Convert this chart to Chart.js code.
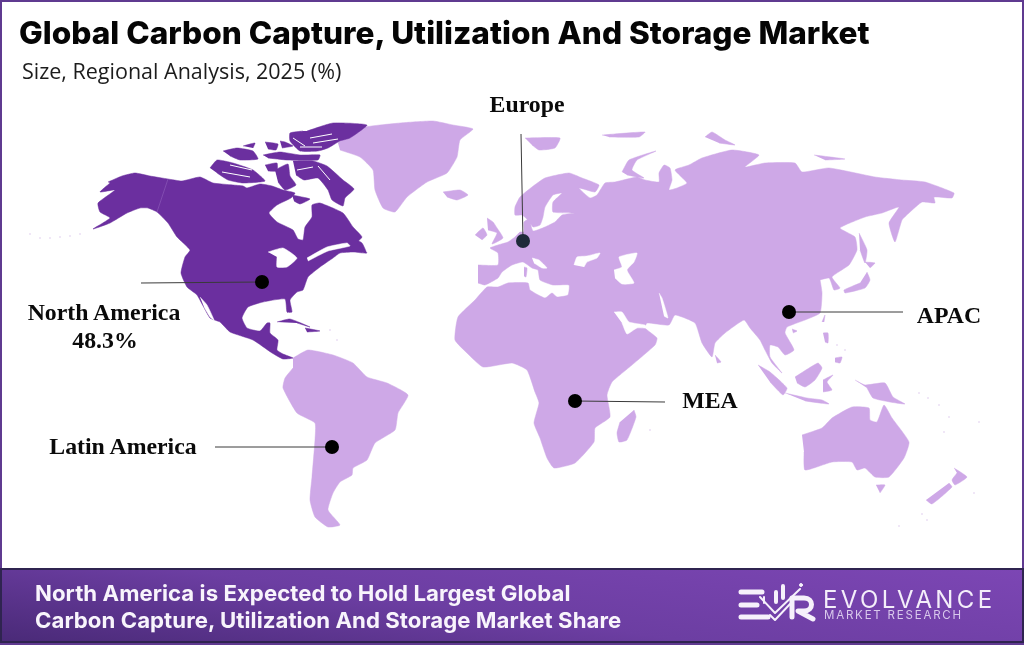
<!DOCTYPE html>
<html>
<head>
<meta charset="utf-8">
<title>Global Carbon Capture, Utilization And Storage Market</title>
<script src="https://cdn.jsdelivr.net/npm/chart.js@4"></script>
<style>
    html, body { margin: 0; padding: 0; background: #fff; }
    #page { position: relative; width: 1024px; height: 645px; overflow: hidden; background: #fff; }
    #map { position: absolute; left: 0; top: 0; }
    #frame { position: absolute; left: 0; top: 0; width: 1020px; height: 641px; border: 2px solid #5f3a90; pointer-events: none; }
    #title { position: absolute; left: 19px; top: 13px; font: 800 31.6px Inter, sans-serif; color: #050505; white-space: nowrap; }
    #subtitle { position: absolute; left: 22px; top: 56px; font: 400 21.5px "Open Sans", sans-serif; color: #1c1c1c; white-space: nowrap; }
    .label { position: absolute; font: 700 23.8px "Liberation Serif", serif; color: #0a0a0a; white-space: nowrap; transform: translate(-50%, -50%); }
    #band { position: absolute; left: 0; top: 568px; width: 1024px; height: 75px; box-sizing: border-box; border: 2px solid #2f2450;
            background: linear-gradient(8deg, #4a2a78 0%, #6c3ea2 45%, #7c46b4 100%); }
    .band-line { position: absolute; left: 35px; font: 700 22.2px Inter, sans-serif; color: #f8f4fc; white-space: nowrap; letter-spacing: 0.05px; }
    #brand { position: absolute; left: 823px; top: 585px; font: 400 24px Inter, sans-serif; color: #f4eefa; letter-spacing: 3.4px; white-space: nowrap; }
    #brand2 { position: absolute; left: 824px; top: 608px; font: 400 11.5px Inter, sans-serif; color: #d9c9ec; letter-spacing: 1.8px; white-space: nowrap; }
    #logo { position: absolute; left: 735px; top: 578px; }
</style>
</head>
<body>
<div id="page">
    <canvas id="map" width="1024" height="645"></canvas>
    <div id="frame"></div>
    <div id="title">Global Carbon Capture, Utilization And Storage Market</div>
    <div id="subtitle">Size, Regional Analysis, 2025 (%)</div>
    <div id="band"></div>
    <div class="band-line" style="top:579px">North America is Expected to Hold Largest Global</div>
    <div class="band-line" style="top:606px">Carbon Capture, Utilization And Storage Market Share</div>
    <svg id="logo" width="90" height="48" viewBox="735 578 90 48" fill="none" stroke="#f6f1fb" stroke-linecap="round" stroke-linejoin="round">
        <path d="M741 592H762M741 605H757M741 617H768" stroke-width="5"/>
        <path d="M760 597L775 613L800 589" stroke-width="2"/>
        <path d="M764 597V603M770 615L775 620L790 604" stroke-width="2"/>
        <path d="M776 592V602M783 586V598" stroke-width="4"/>
        <path d="M792 617V598H804C814 598 814 611 804 611H798L813 619" stroke-width="5"/>
        <circle cx="801" cy="585" r="1.5" fill="#f6f1fb"/>
    </svg>
    <div id="brand">EVOLVANCE</div>
    <div id="brand2">MARKET RESEARCH</div>
</div>
<script>
// map outlines as [mapX, mapY]
const northAmerica = [[108,182],[122,176],[135,173],[150,176],[168,179],[182,181],[200,177],[213,183],[233,185],[243,186],[247,188],[260,184],[272,186],[283,190],[295,193],[291,198],[277,205],[269,213],[277,222],[293,230],[298,239],[303,240],[305,227],[312,217],[312,205],[320,203],[343,213],[353,227],[362,237],[357,243],[367,253],[353,252],[340,253],[333,258],[320,267],[308,277],[303,290],[297,292],[290,300],[292,312],[287,312],[285,299],[263,302],[248,307],[242,318],[247,328],[260,331],[267,323],[270,323],[270,333],[278,340],[277,350],[283,354],[293,358],[283,359],[272,353],[253,340],[230,332],[220,322],[210,318],[197,295],[187,287],[181,273],[185,257],[190,250],[177,237],[168,223],[157,212],[148,208],[140,208],[127,213],[110,223],[93,229],[110,218],[100,212],[98,203],[115,190],[100,192],[110,183]];
const ellesmere = [[307,131],[333,123],[367,125],[350,138],[340,141],[328,148],[318,151],[300,151],[290,141],[290,133],[303,131]];
const queenElizabeth = [[263,155],[280,152],[300,155],[320,155],[318,160],[287,160],[268,158]];
const devonStrip = [[265,142],[278,144],[276,150],[268,149]];
const axelIsland = [[280,141],[285,142],[293,146],[282,148]];
const baffinIsland = [[293,161],[313,161],[327,166],[343,180],[354,189],[345,198],[343,206],[332,200],[328,190],[318,178],[304,180],[296,175]];
const victoriaIsland = [[210,168],[217,160],[233,163],[253,170],[265,181],[243,183],[228,180],[217,173]];
const banksIsland = [[223,151],[237,148],[253,151],[258,159],[240,160],[230,156]];
const prinsIsland = [[243,146],[255,143],[253,148]];
const boothia = [[265,165],[277,163],[277,171],[268,171]];
const somerset = [[275,170],[288,164],[290,176],[296,185],[285,190],[278,182]];
const southamptonIsland = [[292,195],[310,199],[300,204],[294,201]];
const newfoundland = [[353,238],[362,243],[366,252],[356,249]];
const cuba = [[277,322],[290,319],[310,327],[297,323]];
const hispaniola = [[305,328],[320,331],[307,332]];

const greenland = [[338,143],[360,128],[400,123],[433,121],[453,125],[473,129],[460,140],[457,157],[447,173],[427,182],[407,197],[395,212],[383,208],[375,190],[373,170],[360,157],[340,150]];
const iceland = [[443,192],[460,190],[468,195],[457,200],[447,197]];
const britain = [[487,218],[493,222],[497,228],[503,238],[492,244],[497,233],[488,230]];
const ireland = [[475,235],[483,228],[487,235],[482,240]];
const eurasiaAfrica = [[478,265],[498,265],[498,253],[490,248],[498,245],[508,242],[515,237],[520,232],[524,232],[524,222],[529,219],[533,231],[545,227],[555,222],[562,215],[575,213],[553,212],[553,202],[562,193],[553,195],[545,207],[543,217],[540,225],[533,227],[528,220],[522,215],[515,215],[515,207],[520,197],[532,187],[545,178],[569,173],[582,178],[599,185],[595,192],[579,188],[590,198],[597,195],[605,183],[615,182],[637,177],[645,180],[659,182],[659,173],[664,165],[670,168],[672,180],[669,190],[677,188],[687,183],[675,170],[689,165],[702,158],[732,150],[759,155],[745,167],[765,163],[795,163],[802,172],[829,168],[875,177],[902,180],[925,182],[954,193],[952,198],[934,197],[935,203],[922,202],[909,213],[902,220],[895,242],[889,223],[899,207],[882,213],[865,217],[840,228],[855,237],[857,250],[849,265],[832,277],[840,288],[834,290],[829,278],[812,282],[809,277],[817,272],[820,280],[822,293],[820,313],[805,320],[787,327],[785,333],[794,350],[785,355],[778,347],[770,345],[770,357],[782,373],[772,363],[765,350],[760,340],[750,328],[744,320],[725,333],[715,343],[712,357],[702,343],[695,323],[675,315],[669,325],[647,323],[645,328],[657,338],[655,345],[632,365],[612,382],[607,395],[610,417],[595,428],[594,442],[575,463],[554,468],[547,458],[540,438],[534,423],[539,403],[535,392],[527,370],[512,363],[483,367],[467,353],[455,340],[458,317],[475,300],[487,287],[498,287],[508,283],[528,283],[530,290],[545,298],[552,293],[557,297],[568,295],[569,285],[553,285],[540,280],[538,270],[532,268],[523,262],[512,265],[502,272],[498,278],[485,285],[478,283]];
const svalbard = [[525,138],[560,138],[555,148],[539,150],[532,145]];
const franzJosef = [[602,135],[645,132],[639,137],[609,137]];
const novayaZemlya = [[622,172],[629,160],[656,151],[637,160],[632,170],[644,178],[627,175]];
const severnaya = [[705,137],[712,132],[725,140],[735,145],[719,143]];
const newSiberian = [[814,155],[845,159],[825,160]];
const sakhalin = [[859,233],[867,250],[865,263],[860,250]];
const hokkaido = [[865,262],[875,263],[870,268]];
const honshu = [[867,272],[870,280],[865,288],[845,293],[844,290],[860,283]];
const taiwan = [[822,322],[825,315],[824,322]];
const hainan = [[792,329],[797,331],[793,333]];
const luzon = [[823,333],[828,333],[828,343],[825,342]];
const mindanao = [[835,358],[842,357],[840,363],[835,362]];
const sriLanka = [[715,355],[721,362],[717,363]];
const sumatra = [[758,365],[770,372],[787,388],[783,395],[770,382]];
const java = [[785,393],[807,398],[822,400],[829,404],[805,401]];
const borneo = [[795,377],[818,363],[822,368],[815,380],[805,387],[797,383]];
const sulawesi = [[823,380],[833,375],[827,382],[832,390],[823,392]];
const newGuinea = [[855,380],[865,385],[885,383],[893,397],[905,404],[890,402],[873,398],[867,388]];
const australia = [[802,435],[822,428],[832,418],[852,407],[869,408],[870,420],[877,422],[884,405],[892,418],[909,442],[904,458],[889,477],[875,477],[865,468],[857,470],[852,462],[832,462],[805,470],[804,452]];
const tasmania = [[876,485],[885,485],[880,493]];
const newZealandNorth = [[954,468],[967,477],[955,485],[952,480],[957,473]];
const newZealandSouth = [[949,483],[952,487],[932,504],[926,500]];
const madagascar = [[634,410],[636,417],[627,440],[619,442],[617,433],[620,422]];
const sardinia = [[524,267],[527,268],[526,277],[524,276]];
const southAmerica = [[293,358],[308,350],[333,355],[353,363],[367,377],[387,383],[408,395],[398,413],[395,430],[375,443],[367,460],[353,468],[352,475],[340,482],[333,493],[328,510],[340,525],[328,527],[315,517],[310,500],[312,477],[315,440],[315,423],[297,413],[283,388],[285,378],[293,368]];

// inland water cut out of the land
const greatLakes = [[268,252],[283,248],[297,258],[287,267],[277,267],[277,257]];
const stLawrence = [[307,258],[327,247],[347,243],[350,246],[328,251],[308,261]];
const gulfOfCalifornia = [[200,297],[207,305],[214,320],[210,317],[204,307]];
const blackSea = [[574,265],[577,257],[587,256],[600,253],[597,258],[587,262],[584,267]];
const caspianSea = [[614,270],[622,267],[619,257],[637,253],[634,262],[627,270],[634,283],[622,284],[615,278]];
const persianGulf = [[614,312],[622,312],[629,322],[645,325],[647,328],[637,328],[627,334],[622,323]];
const adriatic = [[532,258],[539,260],[547,268],[542,268],[534,263]];
const indusSliver = [[659,293],[662,298],[668,318],[664,316]];

// thin channels through the arctic islands, each pair is one stroke
const arcticChannels = [[[310,138],[332,134]],[[313,143],[338,139]],[[300,147],[322,147]],[[293,138],[305,146]],[[297,170],[313,167]],[[318,166],[330,180]],[[222,172],[250,177]],[[230,165],[252,170]]];
const alaskaBorder = [[168,179],[157,212]];

// faint specks: aleutians and small pacific islands
const islets = [[30,234],[40,238],[50,238],[60,237],[70,236],[80,234],[919,393],[928,398],[939,405],[949,417],[944,432],[979,422],[922,514],[927,520],[899,526],[974,493],[650,430],[837,345],[845,350],[330,330],[337,340]];

// callouts: dot, end of leader
const callouts = ['North America', 'Europe', 'APAC', 'MEA', 'Latin America'];
const dotPoints = [[262,282],[523,241],[789,312],[575,401],[332,447]];
const leaderEnds = [[141,283],[521,134],[903,312],[665,402],[215,447]];
const dotColors = ['#000000', '#1f2a3a', '#000000', '#000000', '#000000'];
const labelTexts = ['North America', '48.3%', 'Europe', 'APAC', 'MEA', 'Latin America'];
const labelAnchors = [[104,312],[105,340],[527,104],[949,315],[710,400],[123,446]];

const darkRegions = [northAmerica, ellesmere, queenElizabeth, devonStrip, axelIsland, baffinIsland, victoriaIsland, banksIsland, prinsIsland, boothia, somerset, southamptonIsland, newfoundland, cuba, hispaniola];
const lightRegions = [greenland, iceland, britain, ireland, eurasiaAfrica, svalbard, franzJosef, novayaZemlya, severnaya, newSiberian, sakhalin, hokkaido, honshu, taiwan, hainan, luzon, mindanao, sriLanka, sumatra, java, borneo, sulawesi, newGuinea, australia, tasmania, newZealandNorth, newZealandSouth, madagascar, sardinia, southAmerica];
const waterRegions = [greatLakes, stLawrence, gulfOfCalifornia, blackSea, caspianSea, persianGulf, adriatic, indusSliver];

const DARK = '#6b2f9f';
const LIGHT = '#cea8e7';

const toPoints = list => list.map(p => ({ x: p[0], y: p[1] }));

function shape(list, color, order) {
    return {
        data: toPoints(list),
        showLine: true,
        fill: 'shape',
        tension: 0.15,
        backgroundColor: color,
        borderColor: color,
        borderWidth: 0.5,
        pointRadius: 0,
        order: order
    };
}

function segment(a, b, color, width, order) {
    return {
        data: toPoints([a, b]),
        showLine: true,
        fill: false,
        borderColor: color,
        borderWidth: width,
        pointRadius: 0,
        order: order
    };
}

const datasets = [
    ...dotPoints.map((p, i) => ({
        data: toPoints([p]),
        pointStyle: 'circle',
        pointRadius: 7,
        pointBackgroundColor: dotColors[i],
        pointBorderWidth: 0,
        order: 0
    })),
    ...dotPoints.map((p, i) => segment(p, leaderEnds[i], '#3a3a3a', 1, 1)),
    segment(alaskaBorder[0], alaskaBorder[1], '#8a58b8', 0.7, 1),
    ...arcticChannels.map(c => segment(c[0], c[1], '#ffffff', 1, 2)),
    {
        data: toPoints(islets),
        pointStyle: 'circle',
        pointRadius: 0.8,
        pointBackgroundColor: '#dcc8ec',
        pointBorderWidth: 0,
        order: 2
    },
    ...waterRegions.map(r => shape(r, '#ffffff', 2)),
    ...darkRegions.map(r => shape(r, DARK, 3)),
    ...lightRegions.map(r => shape(r, LIGHT, 3))
];

const chart = new Chart(document.getElementById('map'), {
    type: 'scatter',
    data: { datasets },
    options: {
        responsive: false,
        animation: false,
        layout: { padding: 0, autoPadding: false },
        plugins: { legend: { display: false }, tooltip: { enabled: false } },
        scales: {
            x: { type: 'linear', min: 0, max: 1024, display: false },
            y: { type: 'linear', min: 0, max: 645, reverse: true, display: false }
        }
    }
});

// labels sit at their map position, read back through the scales
const page = document.getElementById('page');
labelTexts.forEach((text, i) => {
    const el = document.createElement('div');
    el.className = 'label';
    el.textContent = text;
    el.style.left = chart.scales.x.getPixelForValue(labelAnchors[i][0]) + 'px';
    el.style.top = chart.scales.y.getPixelForValue(labelAnchors[i][1]) + 'px';
    page.appendChild(el);
});
</script>
</body>
</html>
